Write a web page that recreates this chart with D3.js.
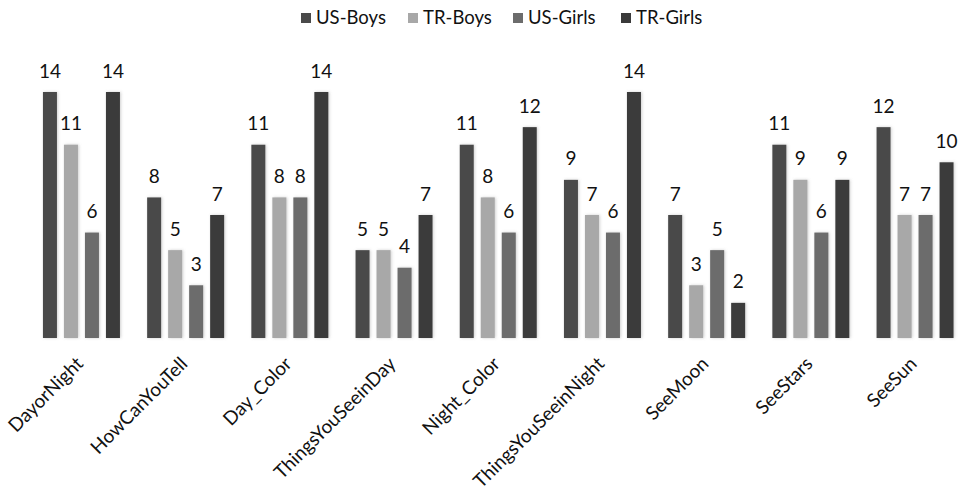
<!DOCTYPE html>
<html>
<head>
<meta charset="utf-8">
<script src="https://cdn.jsdelivr.net/npm/d3@7"></script>
<style>
  body { margin: 0; background: #fff; }
  text { font-family: Lato, "Open Sans", sans-serif; fill: #111; }
</style>
</head>
<body>
<div id="chart"></div>
<script>
// categories and series
const categories = ["DayorNight", "HowCanYouTell", "Day_Color", "ThingsYouSeeinDay",
  "Night_Color", "ThingsYouSeeinNight", "SeeMoon", "SeeStars", "SeeSun"];
const series = ["US-Boys", "TR-Boys", "US-Girls", "TR-Girls"];
const usBoys  = [14, 8, 11, 5, 11, 9, 7, 11, 12];
const trBoys  = [11, 5, 8, 5, 8, 7, 3, 9, 7];
const usGirls = [6, 3, 8, 4, 6, 6, 5, 6, 7];
const trGirls = [14, 7, 14, 7, 12, 14, 2, 9, 10];
const colors = ["#4a4a4a", "#a8a8a8", "#6c6c6c", "#3a3a3a"];

const values = [usBoys, trBoys, usGirls, trGirls];
const data = categories.map((c, i) => ({
  cat: c,
  vals: series.map((s, j) => ({ key: s, value: values[j][i] }))
}));

const width = 961, height = 492;
const svg = d3.select("#chart").append("svg")
  .attr("width", width).attr("height", height);

// soft shadow round the bars
const defs = svg.append("defs");
const f = defs.append("filter").attr("id", "shadow")
  .attr("x", "-30%").attr("y", "-10%").attr("width", "170%").attr("height", "120%");
f.append("feDropShadow").attr("dx", 1).attr("dy", 0).attr("stdDeviation", 1.8)
  .attr("flood-color", "#888").attr("flood-opacity", 0.4);

const x0 = d3.scaleBand().domain(categories).range([29.5, 967])
  .paddingInner(0.261).paddingOuter(0.129);
const x1 = d3.scaleBand().domain(series).range([0, x0.bandwidth()])
  .paddingInner(1 / 3).paddingOuter(0);
const y = d3.scaleLinear().domain([0, 14]).range([338, 92]);
const color = d3.scaleOrdinal().domain(series).range(colors);

// bars
const groups = svg.append("g").selectAll("g")
  .data(data).enter().append("g")
  .attr("transform", d => `translate(${x0(d.cat)},0)`);

groups.selectAll("rect")
  .data(d => d.vals).enter().append("rect")
  .attr("x", d => x1(d.key))
  .attr("y", d => y(d.value))
  .attr("width", x1.bandwidth())
  .attr("height", d => y(0) - y(d.value))
  .attr("fill", d => color(d.key))
  .attr("filter", "url(#shadow)");

// value labels
groups.selectAll("text")
  .data(d => d.vals).enter().append("text")
  .attr("x", d => x1(d.key) + x1.bandwidth() / 2)
  .attr("y", d => y(d.value) - 14.5)
  .attr("text-anchor", "middle")
  .attr("font-size", 19)
  .text(d => d.value);

// x axis
const xAxis = svg.append("g")
  .attr("transform", `translate(0,${y(0)})`)
  .call(d3.axisBottom(x0).tickSize(0).tickPadding(0));
xAxis.select(".domain")
  .attr("d", `M30,0H${width}`)
  .attr("stroke", "#8a8a8a").attr("stroke-width", 2)
  .attr("filter", "url(#shadow)");
xAxis.selectAll("text")
  .attr("font-size", 19)
  .attr("fill", "#111")
  .attr("text-anchor", "end")
  .attr("y", 0).attr("dy", 0)
  .attr("transform", "translate(3,27) rotate(-45)");

// legend
const legendX = [301, 408, 513, 621];
const legend = svg.append("g").selectAll("g")
  .data(series).enter().append("g")
  .attr("transform", (d, i) => `translate(${legendX[i]},18)`);
legend.append("rect")
  .attr("x", 0).attr("y", -5).attr("width", 10).attr("height", 10)
  .attr("fill", d => color(d));
legend.append("text")
  .attr("x", 15).attr("y", 0).attr("dy", "0.35em")
  .attr("font-size", 18.5)
  .text(d => d);
</script>
</body>
</html>
